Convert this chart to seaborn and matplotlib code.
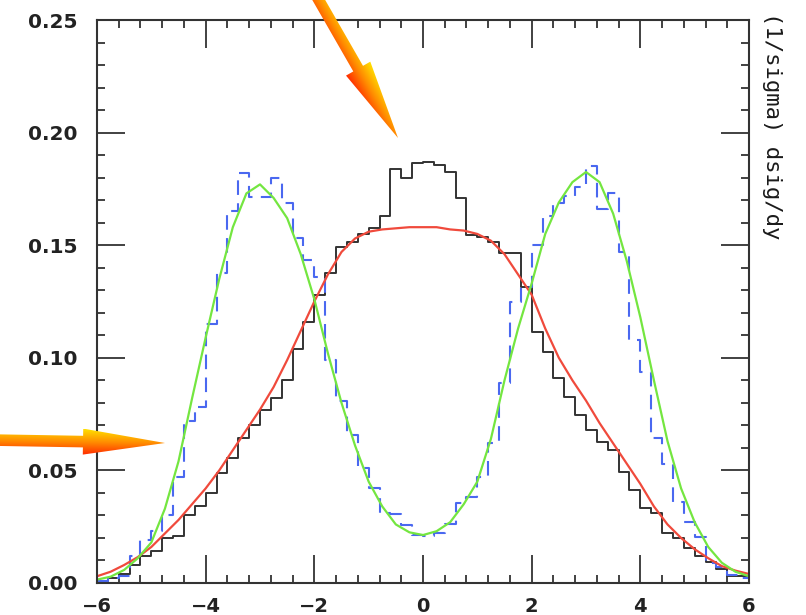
import numpy as np
import pandas as pd
import matplotlib
matplotlib.use("Agg")
import matplotlib.pyplot as plt
import seaborn as sns
from matplotlib.ticker import MultipleLocator, FormatStrFormatter
from matplotlib.patches import Polygon
from matplotlib.colors import LinearSegmentedColormap

# ---------------- data ----------------
# histogram bins: 60 bins of width 0.2 from -6 to 6
bin_edges = [round(v, 2) for v in np.linspace(-6.0, 6.0, 61)]
bin_centers = [round((a + b) / 2, 2) for a, b in zip(bin_edges[:-1], bin_edges[1:])]

black_hist = [0.001, 0.002, 0.004, 0.008, 0.012, 0.014, 0.020, 0.021, 0.030, 0.034,
              0.040, 0.0487, 0.0554, 0.0643, 0.070, 0.0768, 0.082, 0.090, 0.104, 0.116,
              0.128, 0.1375, 0.149, 0.1516, 0.155, 0.1575, 0.163, 0.1837, 0.180, 0.1864,
              0.187, 0.1856, 0.1826, 0.1708, 0.1545, 0.1535, 0.1516, 0.1464, 0.1464, 0.1316,
              0.1116, 0.1027, 0.0909, 0.0827, 0.0746, 0.068, 0.0628, 0.059, 0.0494, 0.0413,
              0.0333, 0.031, 0.0221, 0.0198, 0.0154, 0.012, 0.0095, 0.006, 0.003, 0.003]

blue_hist = [0.001, 0.002, 0.003, 0.012, 0.019, 0.023, 0.030, 0.047, 0.072, 0.078,
             0.115, 0.1375, 0.165, 0.182, 0.1715, 0.1715, 0.180, 0.1686, 0.153, 0.1434,
             0.136, 0.099, 0.081, 0.0657, 0.051, 0.042, 0.031, 0.0305, 0.0258, 0.0213,
             0.021, 0.022, 0.026, 0.0354, 0.038, 0.047, 0.062, 0.0887, 0.125, 0.1316,
             0.150, 0.163, 0.1686, 0.172, 0.176, 0.185, 0.166, 0.173, 0.147, 0.108,
             0.0938, 0.0643, 0.053, 0.036, 0.0272, 0.0206, 0.009, 0.0072, 0.0036, 0.002]

# smooth curves sampled every 0.25 from -6 to 6
curve_x = [round(v, 2) for v in np.linspace(-6.0, 6.0, 49)]
green_curve = [0.0015, 0.0028, 0.0058, 0.011, 0.018, 0.033, 0.054, 0.082, 0.109, 0.135,
               0.158, 0.173, 0.177, 0.171, 0.162, 0.146, 0.126, 0.102, 0.080, 0.061,
               0.045, 0.034, 0.026, 0.0225, 0.0213, 0.023, 0.027, 0.035, 0.045, 0.064,
               0.090, 0.113, 0.133, 0.155, 0.169, 0.178, 0.1825, 0.178, 0.164, 0.143,
               0.118, 0.090, 0.063, 0.042, 0.027, 0.016, 0.009, 0.005, 0.003]
red_curve = [0.003, 0.005, 0.008, 0.0115, 0.016, 0.022, 0.028, 0.035, 0.042, 0.050,
             0.059, 0.068, 0.077, 0.087, 0.099, 0.112, 0.125, 0.137, 0.147, 0.153,
             0.156, 0.157, 0.1575, 0.158, 0.158, 0.158, 0.157, 0.1565, 0.155, 0.152,
             0.146, 0.137, 0.128, 0.113, 0.100, 0.090, 0.081, 0.071, 0.062, 0.053,
             0.044, 0.034, 0.026, 0.020, 0.015, 0.011, 0.0075, 0.0055, 0.004]

x_ticks = [-6, -4, -2, 0, 2, 4, 6]
y_ticks = [0.00, 0.05, 0.10, 0.15, 0.20, 0.25]
right_label = "(1/sigma) dsig/dy"

hist_df = pd.DataFrame({"y": bin_centers, "black": black_hist, "blue": blue_hist})
curve_df = pd.DataFrame({"y": curve_x, "green": green_curve, "red": red_curve})

# ---------------- figure ----------------
sns.set_style("ticks")
plt.rcParams['font.family'] = ['DejaVu Sans']

W, H = 806, 615
fig = plt.figure(figsize=(W / 100, H / 100), dpi=100)
ax = fig.add_axes([97 / W, 1 - 583 / H, (749 - 97) / W, (583 - 20) / H])

sns.histplot(data=hist_df, x="y", weights="black", bins=bin_edges, element="step",
             fill=False, color="#333333", linewidth=1.4, ax=ax)
sns.histplot(data=hist_df, x="y", weights="blue", bins=bin_edges, element="step",
             fill=False, color="#4a68f0", linewidth=1.5, linestyle=(0, (7, 4)), ax=ax)
sns.lineplot(data=curve_df, x="y", y="red", color="#f04a3c", linewidth=1.6, ax=ax)
sns.lineplot(data=curve_df, x="y", y="green", color="#74e640", linewidth=1.6, ax=ax)

ax.set_xlim(-6, 6)
ax.set_ylim(0, 0.25)
ax.set_xlabel("")
ax.set_ylabel("")
ax.set_xticks(x_ticks)
ax.set_yticks(y_ticks)
ax.xaxis.set_minor_locator(MultipleLocator(0.4))
ax.yaxis.set_minor_locator(MultipleLocator(0.01))
ax.yaxis.set_major_formatter(FormatStrFormatter("%.2f"))
ax.tick_params(which="both", direction="in", top=True, right=True,
               color="#333333", width=1.3)
ax.tick_params(which="major", length=20)
ax.tick_params(which="minor", length=6)
ax.tick_params(axis="y", which="major", pad=14, labelsize=14.5)
ax.tick_params(axis="x", which="major", pad=10, labelsize=14)
for lab in ax.get_xticklabels() + ax.get_yticklabels():
    lab.set_fontweight("bold")
    lab.set_color("#222222")
for sp in ax.spines.values():
    sp.set_linewidth(1.5)
    sp.set_color("#333333")

fig.text(772 / W, 1 - 12 / H, right_label, rotation=270, ha="center", va="top",
         family="DejaVu Sans Mono", fontsize=16, color="#1a1a1a")

# ---------------- decorative gradient arrows ----------------
oax = fig.add_axes([0, 0, 1, 1], zorder=10)
oax.axis("off")
cmap = LinearSegmentedColormap.from_list("arr", ["#ff2a00", "#ff8c00", "#ffe000"])


def grad_arrow(tail, tip, shaft_hw, head_len, head_hw):
    tail = np.array(tail, float)
    tip = np.array(tip, float)
    d = tip - tail
    u = d / np.hypot(*d)
    n = np.array([-u[1], u[0]])
    base = tip - head_len * u
    pts = [tail + shaft_hw * n, base + shaft_hw * n, base + head_hw * n, tip,
           base - head_hw * n, base - shaft_hw * n, tail - shaft_hw * n]
    poly = Polygon(pts, closed=True, facecolor="none", edgecolor="none")
    oax.add_patch(poly)
    xs = [p[0] for p in pts]
    ys = [p[1] for p in pts]
    x0, x1, y0, y1 = min(xs), max(xs), min(ys), max(ys)
    GX, GY = np.meshgrid(np.linspace(x0, x1, 300), np.linspace(y0, y1, 300))
    proj = (GX - tip[0]) * n[0] + (GY - tip[1]) * n[1]
    t = np.clip(0.5 - proj / (2 * head_hw), 0, 1)
    im = oax.imshow(cmap(t), extent=(x0, x1, y1, y0), origin="upper",
                    aspect="auto", interpolation="bilinear")
    im.set_clip_path(poly)


grad_arrow((313, -10), (398, 138), 5.6, 80, 14)
grad_arrow((-10, 440), (165, 443), 5.8, 82, 13)
oax.set_xlim(0, W)
oax.set_ylim(H, 0)

fig.savefig("out.png", dpi=100)
